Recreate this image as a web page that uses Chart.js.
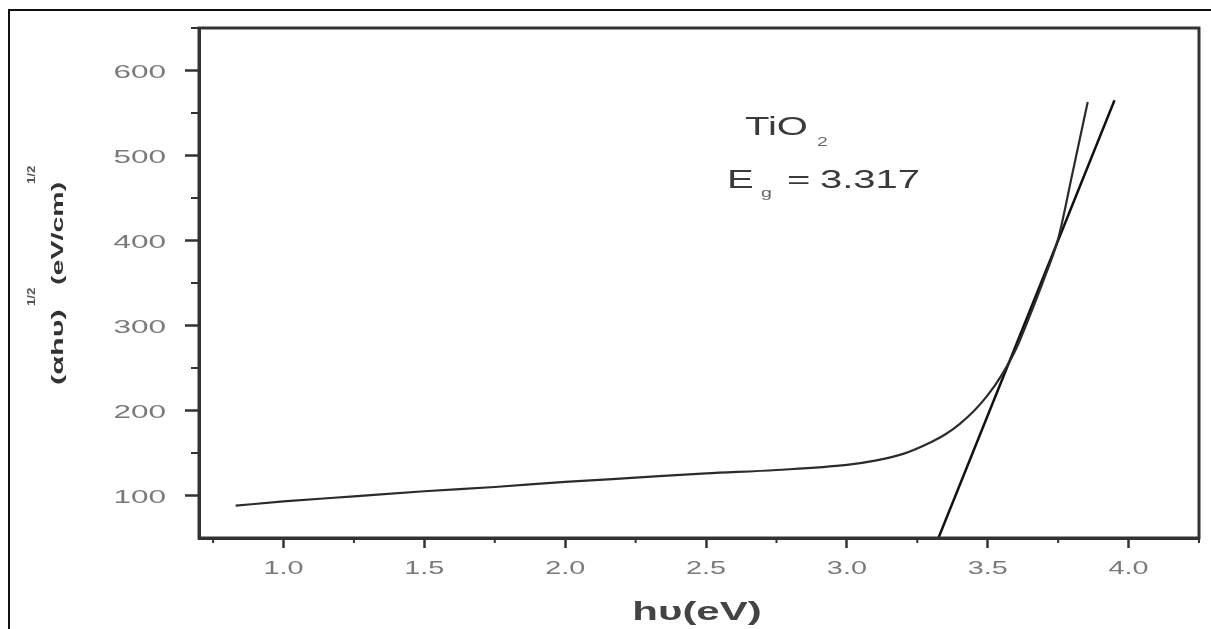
<!DOCTYPE html>
<html>
<head>
<meta charset="utf-8">
<title>TiO2 Tauc plot</title>
<script src="https://cdn.jsdelivr.net/npm/chart.js@4.4.1/dist/chart.umd.min.js"></script>
<style>
  html, body { margin: 0; padding: 0; background: #fff; }
  #wrap { position: relative; width: 1211px; height: 629px; overflow: hidden; }
  #frame { position: absolute; left: 8px; top: 9px; width: 1220px; height: 640px;
           border-top: 2px solid #111; border-left: 2px solid #111; }
  #plot { position: absolute; left: 0; top: 0; }
</style>
</head>
<body>
<div id="wrap">
  <div id="frame"></div>
  <canvas id="plot" width="1211" height="629"></canvas>
</div>
<script>
// measured curve, (alpha h nu)^1/2 vs photon energy
const energy = [0.83, 1.0, 1.25, 1.5, 1.75, 2.0, 2.25, 2.5, 2.75, 3.0, 3.1, 3.2, 3.3, 3.35,
                3.4, 3.45, 3.5, 3.55, 3.6, 3.65, 3.7, 3.75, 3.8, 3.855];
const absorption = [88, 93, 99, 105, 110, 116, 121, 126, 130, 136, 141, 149, 163, 172,
                    184, 199, 218, 242, 272, 312, 355, 402, 478, 563];

// linear extrapolation of the absorption edge
const fitEnergy = [3.325, 3.95];
const fitValue = [50, 565];

const xTicks = [1.0, 1.5, 2.0, 2.5, 3.0, 3.5, 4.0];
const xMinorTicks = [0.75, 1.25, 1.75, 2.25, 2.75, 3.25, 3.75, 4.25];
const yTicks = [100, 200, 300, 400, 500, 600];
const yMinorTicks = [150, 250, 350, 450, 550, 650];

const AXIS = '#333';
const TICK_TEXT = '#7a7a7a';
const FONT = '"Liberation Sans", Arial, sans-serif';
const STRETCH = 1.75;   // the figure's lettering is drawn wide

// text drawn stretched along its reading direction
function wideText(ctx, txt, x, y, o) {
  ctx.save();
  ctx.font = `${o.weight || 'normal'} ${o.size}px ${FONT}`;
  ctx.fillStyle = o.color;
  ctx.textAlign = 'left';
  ctx.textBaseline = 'alphabetic';
  const sx = o.sx || STRETCH;
  const w = ctx.measureText(txt).width * sx;
  const off = o.align === 'center' ? -w / 2 : o.align === 'right' ? -w : 0;
  ctx.translate(x + off, y);
  ctx.scale(sx, 1);
  ctx.fillText(txt, 0, 0);
  ctx.restore();
  return w;
}

// Origin-style decorations: closed box, minor ticks, labels, titles
const originLook = {
  id: 'originLook',
  afterDraw(chart) {
    const { ctx, chartArea: a, scales: { x, y } } = chart;
    ctx.save();
    ctx.strokeStyle = AXIS;
    ctx.lineWidth = 3;
    ctx.strokeRect(a.left, a.top, a.right - a.left, a.bottom - a.top);

    ctx.lineWidth = 2;
    ctx.beginPath();
    xMinorTicks.forEach(v => {
      const px = x.getPixelForValue(v);
      ctx.moveTo(px, a.bottom); ctx.lineTo(px, a.bottom + 5);
    });
    yMinorTicks.forEach(v => {
      const py = y.getPixelForValue(v);
      ctx.moveTo(a.left, py); ctx.lineTo(a.left - 8, py);
    });
    ctx.stroke();
    ctx.restore();

    xTicks.forEach(v => {
      wideText(ctx, v.toFixed(1), x.getPixelForValue(v), a.bottom + 36,
               { size: 18, color: TICK_TEXT, align: 'center', sx: 1.6 });
    });
    yTicks.forEach(v => {
      wideText(ctx, String(v), a.left - 33, y.getPixelForValue(v) + 7,
               { size: 18, color: TICK_TEXT, align: 'right', sx: 1.75 });
    });

    // y title, rotated, with superscripts
    ctx.save();
    ctx.translate(63, 385);
    ctx.rotate(-Math.PI / 2);
    wideText(ctx, '(αhυ)', 0, 0, { size: 17, weight: 'bold', color: '#333', sx: 1.8 });
    wideText(ctx, '1/2', 79, -28, { size: 11, weight: 'bold', color: '#555', sx: 1.2 });
    wideText(ctx, '(eV/cm)', 100, 0, { size: 17, weight: 'bold', color: '#333', sx: 1.68 });
    wideText(ctx, '1/2', 201, -28, { size: 11, weight: 'bold', color: '#555', sx: 1.2 });
    ctx.restore();

    // x title
    wideText(ctx, 'hυ(eV)', 697, 620, { size: 25, weight: 'bold', color: '#444', align: 'center', sx: 1.68 });

    // sample label
    const lab = { size: 25, color: '#3a3a3a', sx: 1.6 };
    wideText(ctx, 'TiO', 745, 135, lab);
    wideText(ctx, 'E', 727, 188, lab);
    wideText(ctx, '=', 787, 188, lab);
    wideText(ctx, '3.317', 820, 188, lab);
    wideText(ctx, '2', 817, 146, { size: 13, color: '#666', sx: 1.5 });
    wideText(ctx, 'g', 761, 197, { size: 13, color: '#666', sx: 1.5 });
  }
};

new Chart(document.getElementById('plot').getContext('2d'), {
  type: 'line',
  data: {
    datasets: [
      {
        label: 'TiO2',
        data: energy.map((e, i) => ({ x: e, y: absorption[i] })),
        borderColor: '#2b2b2b',
        borderWidth: 2.2,
        pointRadius: 0,
        cubicInterpolationMode: 'monotone'
      },
      {
        label: 'fit',
        data: fitEnergy.map((e, i) => ({ x: e, y: fitValue[i] })),
        borderColor: '#111',
        borderWidth: 2.5,
        pointRadius: 0
      }
    ]
  },
  options: {
    responsive: false,
    animation: false,
    events: [],
    layout: { padding: { top: 28, right: 12, left: 0, bottom: 0 } },
    plugins: { legend: { display: false }, tooltip: { enabled: false } },
    scales: {
      x: {
        type: 'linear',
        min: 0.7,
        max: 4.25,
        afterBuildTicks: s => { s.ticks = xTicks.map(v => ({ value: v })); },
        afterFit: s => { s.height = 91; },
        grid: { drawOnChartArea: false, tickLength: 10, tickWidth: 2.5, tickColor: AXIS },
        border: { color: AXIS, width: 3 },
        ticks: { display: false }
      },
      y: {
        type: 'linear',
        min: 50,
        max: 650,
        afterBuildTicks: s => { s.ticks = yTicks.map(v => ({ value: v })); },
        afterFit: s => { s.width = 199; },
        grid: { drawOnChartArea: false, tickLength: 14, tickWidth: 2.5, tickColor: AXIS },
        border: { color: AXIS, width: 3 },
        ticks: { display: false }
      }
    }
  },
  plugins: [originLook]
});
</script>
</body>
</html>
